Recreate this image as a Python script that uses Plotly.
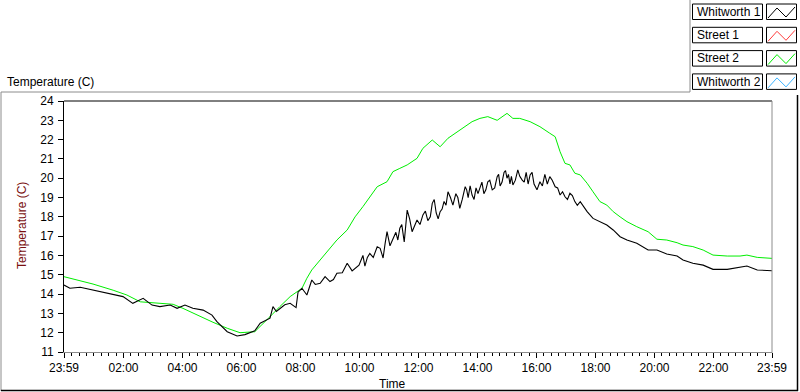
import pandas as pd
import plotly.graph_objects as go

# ---- data (clock times; first entry is 23:59 of the previous day) ----
street2_time = ["23:59", "00:58", "01:39", "02:07", "02:34", "03:14", "03:41", "04:01", "04:36", "05:02",
                "05:31", "05:57", "06:27", "06:38", "06:58", "07:18", "07:39", "08:03", "08:13", "08:23",
                "08:40", "09:00", "09:14", "09:35", "09:51", "10:07", "10:36", "10:56", "11:08", "11:22",
                "11:37", "11:57", "12:09", "12:28", "12:44", "13:00", "13:24", "13:49", "14:05", "14:21",
                "14:40", "15:00", "15:12", "15:26", "15:47", "16:07", "16:27", "16:38", "16:48", "16:58",
                "17:08", "17:18", "17:29", "17:43", "17:55", "18:09", "18:23", "18:36", "18:50", "19:04",
                "19:24", "19:47", "20:05", "20:25", "20:46", "20:58", "21:18", "21:39", "21:59", "22:28",
                "22:54", "23:08", "23:29", "23:59"]
street2_temp = [14.9, 14.52, 14.2, 13.95, 13.6, 13.52, 13.47, 13.26, 12.83, 12.54,
                12.23, 12.0, 12.05, 12.31, 12.83, 13.35, 13.87, 14.3, 14.82, 15.25,
                15.77, 16.37, 16.8, 17.32, 18.0, 18.53, 19.56, 19.82, 20.34, 20.51,
                20.69, 21.03, 21.55, 21.98, 21.63, 22.07, 22.5, 22.93, 23.1, 23.19,
                23.0, 23.36, 23.1, 23.1, 22.93, 22.67, 22.33, 22.15, 21.37, 20.77,
                20.69, 20.26, 20.17, 19.74, 19.3, 18.79, 18.61, 18.27, 18.0, 17.75,
                17.49, 17.23, 16.84, 16.8, 16.66, 16.54, 16.46, 16.28, 16.02, 15.97,
                15.97, 16.02, 15.9, 15.85]

whitworth1 = [
    ("23:59", 14.47), ("00:11", 14.3), ("00:32", 14.35), ("00:58", 14.2), ("01:18", 14.1),
    ("01:39", 14.0), ("01:59", 13.87), ("02:19", 13.52), ("02:40", 13.78), ("02:58", 13.43),
    ("03:14", 13.35), ("03:35", 13.43), ("03:49", 13.26), ("04:05", 13.43), ("04:21", 13.27),
    ("04:42", 13.17), ("05:00", 12.91), ("05:10", 12.57), ("05:31", 12.05), ("05:51", 11.83),
    ("06:07", 11.9), ("06:27", 12.1), ("06:38", 12.49), ("06:58", 12.75), ("07:04", 13.35),
    ("07:11", 13.1), ("07:18", 13.26), ("07:28", 13.45), ("07:39", 13.52), ("07:51", 13.3),
    ("07:55", 14.1), ("08:03", 14.3), ("08:13", 13.95), ("08:23", 14.73), ("08:30", 14.5),
    ("08:40", 14.56), ("08:50", 14.9), ("09:00", 14.65), ("09:07", 14.75), ("09:14", 15.08),
    ("09:25", 15.1), ("09:35", 15.6), ("09:45", 15.2), ("09:51", 15.34), ("09:59", 15.5),
    ("10:07", 16.0), ("10:11", 15.45), ("10:16", 15.9), ("10:21", 16.1), ("10:28", 15.9),
    ("10:36", 16.45), ("10:42", 16.37), ("10:48", 15.87), ("10:52", 16.6), ("10:56", 17.23),
    ("11:02", 16.5), ("11:08", 16.89), ("11:14", 17.2), ("11:18", 16.8), ("11:22", 17.41),
    ("11:26", 17.6), ("11:31", 16.7), ("11:37", 18.35), ("11:42", 17.9), ("11:47", 17.23),
    ("11:52", 17.5), ("11:57", 17.84), ("12:03", 17.6), ("12:09", 18.1), ("12:14", 18.3),
    ("12:19", 17.8), ("12:24", 18.0), ("12:28", 18.7), ("12:32", 18.9), ("12:36", 18.2),
    ("12:40", 17.9), ("12:44", 18.27), ("12:48", 18.4), ("12:52", 18.8), ("12:56", 18.6),
    ("13:00", 19.3), ("13:05", 19.0), ("13:10", 18.61), ("13:13", 18.9), ("13:16", 19.2),
    ("13:20", 19.0), ("13:24", 18.44), ("13:29", 18.9), ("13:35", 19.56), ("13:38", 19.4),
    ("13:41", 19.0), ("13:45", 19.6), ("13:49", 19.13), ("13:53", 18.9), ("13:57", 19.5),
    ("14:01", 19.2), ("14:05", 19.56), ("14:09", 19.8), ("14:13", 19.2), ("14:17", 19.4),
    ("14:21", 19.82), ("14:25", 19.9), ("14:30", 19.4), ("14:35", 19.5), ("14:40", 20.08),
    ("14:43", 20.2), ("14:46", 19.6), ("14:50", 19.8), ("14:54", 20.3), ("14:57", 20.4),
    ("15:00", 20.0), ("15:03", 20.2), ("15:06", 19.7), ("15:09", 20.1), ("15:12", 19.65),
    ("15:17", 19.9), ("15:22", 20.43), ("15:26", 20.1), ("15:31", 19.9), ("15:35", 19.8),
    ("15:39", 20.3), ("15:43", 19.7), ("15:47", 20.17), ("15:51", 20.3), ("15:55", 19.7),
    ("16:01", 19.4), ("16:07", 19.82), ("16:12", 19.6), ("16:17", 20.2), ("16:22", 19.7),
    ("16:27", 20.08), ("16:32", 19.9), ("16:38", 19.56), ("16:43", 19.5), ("16:48", 19.13),
    ("16:53", 19.3), ("16:58", 19.04), ("17:03", 18.9), ("17:08", 19.22), ("17:13", 19.1),
    ("17:18", 18.79), ("17:23", 18.6), ("17:29", 18.79), ("17:43", 18.27), ("17:55", 17.92),
    ("18:09", 17.75), ("18:23", 17.58), ("18:36", 17.32), ("18:50", 16.97), ("19:04", 16.8),
    ("19:24", 16.63), ("19:47", 16.28), ("20:05", 16.28), ("20:25", 16.08), ("20:46", 15.97),
    ("20:58", 15.77), ("21:18", 15.6), ("21:39", 15.5), ("21:59", 15.28), ("22:28", 15.28),
    ("22:54", 15.39), ("23:08", 15.45), ("23:29", 15.25), ("23:59", 15.21),
]
whitworth1_time = [t for t, _ in whitworth1]
whitworth1_temp = [v for _, v in whitworth1]

tick_times = ["23:59", "02:00", "04:00", "06:00", "08:00", "10:00", "12:00",
              "14:00", "16:00", "18:00", "20:00", "22:00", "23:59"]
y_ticks = list(range(11, 25))

legend_names = ["Whitworth 1", "Street 1", "Street 2", "Whitworth 2"]
legend_colors = ["#000000", "#ff3c3c", "#00ee00", "#3cb4ff"]


def to_dt(times):
    out = []
    for i, t in enumerate(times):
        day = "2020-01-01" if i == 0 else "2020-01-02"
        out.append(pd.Timestamp(f"{day} {t}"))
    return out


W, H = 800, 392


def px(x):
    return x / W


def py(y):
    return 1 - y / H


fig = go.Figure()
fig.add_trace(go.Scatter(x=to_dt(street2_time), y=street2_temp, mode="lines",
                         line=dict(color="#00ee00", width=1), name="Street 2"))
fig.add_trace(go.Scatter(x=to_dt(whitworth1_time), y=whitworth1_temp, mode="lines",
                         line=dict(color="#000000", width=1.1), name="Whitworth 1"))

font = dict(family="Liberation Sans, Arial, sans-serif", size=12, color="#000000")
tickvals = to_dt(tick_times)

fig.update_layout(
    width=W, height=H, margin=dict(l=0, r=0, t=0, b=0),
    paper_bgcolor="white", plot_bgcolor="white", showlegend=False, font=font,
    xaxis=dict(domain=[px(64), px(772)], range=[tickvals[0], tickvals[-1]],
               tickmode="array", tickvals=tickvals, ticktext=tick_times,
               ticks="outside", ticklen=5, tickcolor="#000", tickwidth=1,
               minor=dict(ticks="outside", ticklen=3, tickcolor="#000",
                          dtick=15 * 60 * 1000, tick0="2020-01-02 00:00"),
               showgrid=False, zeroline=False, showline=True, linecolor="#8c8c8c",
               linewidth=1, automargin=False, anchor="y"),
    yaxis=dict(domain=[py(352), py(101)], range=[11, 24], tickmode="array",
               tickvals=y_ticks, ticks="outside", ticklen=5, tickcolor="#000",
               showgrid=False, zeroline=False, showline=True, linecolor="#000",
               linewidth=1, automargin=False, ticklabelstandoff=2),
)

shapes = []
# plot area top (black) and right (gray) borders
shapes.append(dict(type="line", xref="paper", yref="paper", x0=px(64), x1=px(772),
                   y0=py(101), y1=py(101), line=dict(color="#000", width=1)))
shapes.append(dict(type="line", xref="paper", yref="paper", x0=px(772), x1=px(772),
                   y0=py(101), y1=py(353), line=dict(color="#8c8c8c", width=1)))
# outer frame
shapes.append(dict(type="line", xref="paper", yref="paper", x0=px(1), x1=px(690),
                   y0=py(92), y1=py(92), line=dict(color="#8c8c8c", width=1)))
shapes.append(dict(type="line", xref="paper", yref="paper", x0=px(1), x1=px(1),
                   y0=py(92), y1=py(391), line=dict(color="#8c8c8c", width=1)))
shapes.append(dict(type="line", xref="paper", yref="paper", x0=px(1), x1=px(798),
                   y0=py(390.5), y1=py(390.5), line=dict(color="#000", width=1.5)))
shapes.append(dict(type="line", xref="paper", yref="paper", x0=px(797.5), x1=px(797.5),
                   y0=py(95), y1=py(391), line=dict(color="#000", width=1.5)))
# legend separator
shapes.append(dict(type="line", xref="paper", yref="paper", x0=px(690), x1=px(690),
                   y0=py(0), y1=py(92), line=dict(color="#8c8c8c", width=1)))

annotations = [
    dict(text="Temperature (C)", xref="paper", yref="paper", x=px(5), y=py(82),
         xanchor="left", yanchor="middle", showarrow=False, font=font),
    dict(text="Temperature (C)", xref="paper", yref="paper", x=px(22), y=py(226),
         xanchor="center", yanchor="middle", textangle=-90, showarrow=False,
         font=dict(family=font["family"], size=12, color="#7a1010")),
    dict(text="Time", xref="paper", yref="paper", x=px(392), y=py(384),
         xanchor="center", yanchor="middle", showarrow=False, font=font),
]

for i, (name, col) in enumerate(zip(legend_names, legend_colors)):
    top = 4 + i * 23.3
    bot = top + 15.5
    shapes.append(dict(type="rect", xref="paper", yref="paper", x0=px(692.5), x1=px(762.5),
                       y0=py(bot), y1=py(top), line=dict(color="#000", width=1)))
    shapes.append(dict(type="rect", xref="paper", yref="paper", x0=px(766.5), x1=px(796.5),
                       y0=py(bot), y1=py(top), line=dict(color="#000", width=1)))
    pts = [(768, top + 14), (777, top + 4), (786, top + 13), (795, top + 3)]
    path = "M " + " L ".join(f"{px(a)},{py(b)}" for a, b in pts)
    shapes.append(dict(type="path", xref="paper", yref="paper", path=path,
                       line=dict(color=col, width=1)))
    annotations.append(dict(text=name, xref="paper", yref="paper", x=px(695),
                            y=py((top + bot) / 2), xanchor="left", yanchor="middle",
                            showarrow=False, font=font))

fig.update_layout(shapes=shapes, annotations=annotations)
fig.write_html("out.html", config={"displayModeBar": False},
               post_script="document.body.style.margin='0';document.body.style.overflow='hidden';")
